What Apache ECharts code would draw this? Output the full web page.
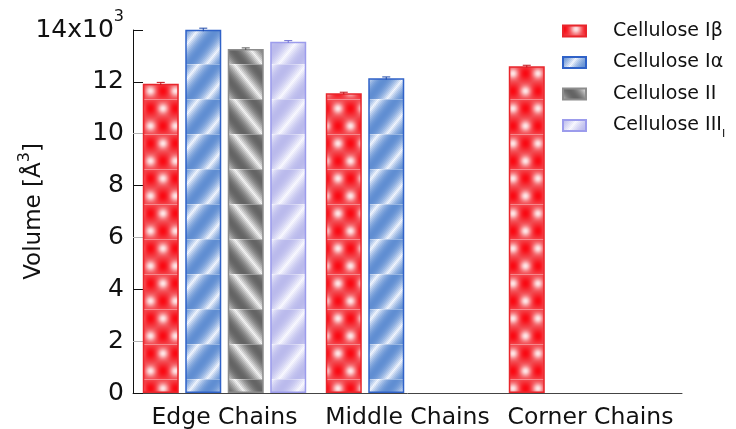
<!DOCTYPE html>
<html>
<head>
<meta charset="utf-8">
<script src="https://cdn.jsdelivr.net/npm/echarts@6/dist/echarts.min.js"></script>
<style>
  html, body { margin: 0; padding: 0; background: #ffffff; }
  #chart { width: 736px; height: 429px; }
</style>
</head>
<body>
<div id="chart"></div>
<script>
// Categories and series values (volumes in Å^3)
const categories = ['Edge Chains', 'Middle Chains', 'Corner Chains'];
const seriesNames = ['Cellulose Iβ', 'Cellulose Iα', 'Cellulose II', 'Cellulose III'];
const volIbeta  = [11930, 11560, 12600];
const volIalpha = [14010, 12140, null];
const volII     = [13270, null, null];
const volIII    = [13550, null, null];
// Error bar half-heights
const errIbeta  = [50, 40, 40];
const errIalpha = [60, 50, null];
const errII     = [40, null, null];
const errIII    = [40, null, null];
// Y axis ticks
const yMin = 0, yMax = 14000, yStep = 2000;

const FONT = 'DejaVu Sans';
const BAR_W = 36;
const BAR_GAP = 0.18;

// ---- textured fills built as repeating canvas tiles ----
function makeTile(w, h, fn) {
  const c = document.createElement('canvas');
  c.width = w; c.height = h;
  const ctx = c.getContext('2d');
  const img = ctx.createImageData(w, h);
  for (let y = 0; y < h; y++) {
    for (let x = 0; x < w; x++) {
      const col = fn(x, y);
      const i = (y * w + x) * 4;
      img.data[i] = Math.max(0, Math.min(255, col[0]));
      img.data[i + 1] = Math.max(0, Math.min(255, col[1]));
      img.data[i + 2] = Math.max(0, Math.min(255, col[2]));
      img.data[i + 3] = 255;
    }
  }
  ctx.putImageData(img, 0, 0);
  return c;
}
const TILE_H = 35;
const seamRow = y => (y + 6) % TILE_H; // local row; 0 is the light seam
function mix(a, b, t) { return [a[0] + (b[0] - a[0]) * t, a[1] + (b[1] - a[1]) * t, a[2] + (b[2] - a[2]) * t]; }
function seam(col, yy) { return yy === 0 ? mix(col, [255, 255, 255], 0.35) : col; }

function dotTile() {
  const W = 25, H = TILE_H;
  const reds = [[0, 9], [25, 9], [12.5, 26.5], [0, 44], [25, 44], [12.5, -8.5]];
  const whites = [[12.5, 9], [0, 26.5], [25, 26.5], [12.5, 44], [0, -8.5], [25, -8.5]];
  const base = [241, 78, 84], red = [250, 8, 18], white = [255, 246, 246];
  const sr = 2 * 5 * 5, sw = 2 * 3.6 * 3.6;
  return makeTile(W, H, (x, y) => {
    const yy = seamRow(y);
    let a = 0, b = 0;
    reds.forEach(p => { const d = (x - p[0]) ** 2 + (yy - p[1]) ** 2; a = Math.max(a, Math.exp(-d / sr)); });
    whites.forEach(p => { const d = (x - p[0]) ** 2 + (yy - p[1]) ** 2; b = Math.max(b, Math.exp(-d / sw)); });
    let col = mix(base, red, a);
    col = mix(col, white, b * 0.9);
    return seam(col, yy);
  });
}
function bandTile(dark, light, dir, power) {
  const W = 36, H = TILE_H;
  return makeTile(W, H, (x, y) => {
    const yy = seamRow(y);
    let t = 0.5 + 0.5 * Math.cos(2 * Math.PI * (x + dir * yy * 0.8) / W);
    t = Math.pow(t, power);
    let col = mix(light, dark, t);
    if ((x + y) % 2 === 0) col = mix(col, dark, 0.1);
    return seam(col, yy);
  });
}
const fills = [
  { image: dotTile(), repeat: 'repeat' },
  { image: bandTile([96, 142, 210], [248, 250, 255], 1, 0.45), repeat: 'repeat' },
  { image: bandTile([100, 100, 100], [248, 248, 248], -1, 0.5), repeat: 'repeat' },
  { image: bandTile([186, 186, 236], [251, 251, 255], 1, 0.5), repeat: 'repeat' }
];
const borders = ['#e8262c', '#2f62c8', '#8c8c8c', '#9c9cec'];
const values = [volIbeta, volIalpha, volII, volIII];
const errors = [errIbeta, errIalpha, errII, errIII];

const barSeries = seriesNames.map((name, i) => ({
  name: name,
  type: 'bar',
  data: values[i],
  barWidth: BAR_W,
  barGap: (BAR_GAP * 100) + '%',
  itemStyle: { color: fills[i], borderColor: borders[i], borderWidth: 1.5 },
  emphasis: { disabled: true },
  z: 2
}));

// Error bar data: [category index, series index, value, error]
const errData = [];
values.forEach((vals, s) => vals.forEach((v, c) => {
  if (v != null) errData.push([c, s, v, errors[s][c]]);
}));

const errSeries = {
  type: 'custom',
  name: 'err',
  data: errData,
  z: 5,
  silent: true,
  renderItem: function (params, api) {
    const c = api.value(0), s = api.value(1), v = api.value(2), e = api.value(3);
    const top = api.coord([c, v + e]);
    const bot = api.coord([c, v - e]);
    const total = 4 * BAR_W + 3 * BAR_W * BAR_GAP;
    const x = top[0] - total / 2 + s * BAR_W * (1 + BAR_GAP) + BAR_W / 2;
    const col = ['#c01018', '#1d48a8', '#555555', '#6c6cd0'][s];
    return {
      type: 'group',
      children: [
        { type: 'line', shape: { x1: x, y1: top[1], x2: x, y2: bot[1] }, style: { stroke: col, lineWidth: 1 } },
        { type: 'line', shape: { x1: x - 4, y1: top[1], x2: x + 4, y2: top[1] }, style: { stroke: col, lineWidth: 1 } }
      ]
    };
  }
};

const chart = echarts.init(document.getElementById('chart'), null, { renderer: 'canvas' });
chart.setOption({
  animation: false,
  backgroundColor: '#ffffff',
  textStyle: { fontFamily: FONT },
  grid: { left: 133, right: 54, top: 30, bottom: 36, containLabel: false, outerBoundsMode: 'none' },
  legend: {
    data: seriesNames,
    orient: 'vertical',
    left: 562,
    top: 21,
    padding: 0,
    icon: 'rect',
    itemWidth: 23,
    itemHeight: 11,
    itemGap: 11.5,
    selectedMode: false,
    formatter: name => name === 'Cellulose III' ? 'Cellulose III{sub|I}' : name,
    textStyle: {
      fontFamily: FONT, fontSize: 19, color: '#111', lineHeight: 20,
      padding: [0, 0, 0, 22],
      rich: { sub: { fontSize: 11, verticalAlign: 'bottom', lineHeight: 11, padding: [0, 0, -4, 0] } }
    }
  },
  xAxis: {
    type: 'category',
    data: categories,
    boundaryGap: true,
    axisLine: { lineStyle: { color: '#444', width: 1 } },
    axisTick: { inside: true, length: 10, lineStyle: { color: '#333' } },
    axisLabel: { interval: 0, fontFamily: FONT, fontSize: 23.5, color: '#111', margin: 13 }
  },
  yAxis: [
    {
      type: 'value',
      min: yMin, max: yMax, interval: yStep,
      name: 'Volume [Å{sup|3}]',
      nameLocation: 'middle',
      nameRotate: 90,
      nameGap: 82,
      nameMoveOverlap: false,
      nameTextStyle: {
        fontFamily: FONT, fontSize: 23, color: '#111', lineHeight: 34,
        rich: { sup: { fontSize: 16, lineHeight: 16, verticalAlign: 'top' } }
      },
      axisLine: { show: true, lineStyle: { color: '#111', width: 1 } },
      axisTick: { show: true, inside: true, length: 10, lineStyle: { color: '#b4b4b4' } },
      splitLine: { show: false },
      axisLabel: {
        fontFamily: FONT, fontSize: 25, color: '#111', margin: 9,
        formatter: v => v === yMax ? '{n|14x10}{sup|3}' : String(v / 1000),
        rich: {
          n: { fontFamily: FONT, fontSize: 25, color: '#111', lineHeight: 42 },
          sup: { fontFamily: FONT, fontSize: 16, color: '#111', lineHeight: 16, verticalAlign: 'top' }
        }
      }
    },
    {
      type: 'value',
      position: 'left',
      min: yMin, max: yMax, interval: yStep * 2,
      axisLine: { show: false },
      axisTick: { show: true, inside: true, length: 10, lineStyle: { color: '#111' } },
      axisLabel: { show: false },
      splitLine: { show: false }
    }
  ],
  series: barSeries.concat([errSeries])
});
</script>
</body>
</html>
